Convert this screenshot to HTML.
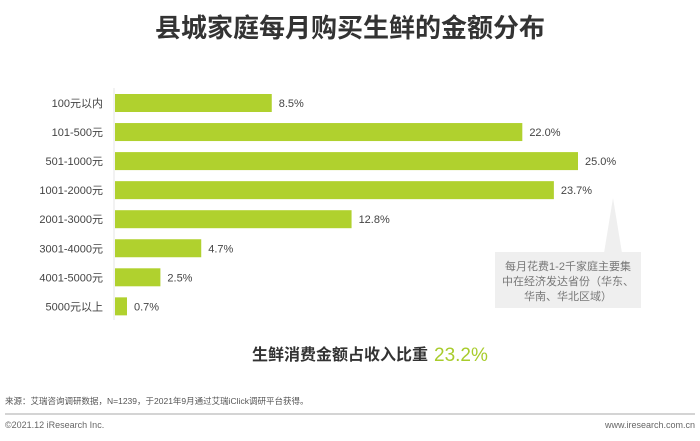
<!DOCTYPE html>
<html><head><meta charset="utf-8"><style>
body{margin:0;width:700px;height:436px;background:#fff;overflow:hidden;font-family:"Liberation Sans","Noto Sans CJK SC",sans-serif;}
</style></head><body>
<svg id="chart" width="700" height="436" xmlns="http://www.w3.org/2000/svg">
<text x="350" y="37" text-anchor="middle" font-size="26" font-weight="bold" fill="#333" font-family="'Liberation Sans','Noto Sans CJK SC',sans-serif">县城家庭每月购买生鲜的金额分布</text>
<line x1="114" y1="88" x2="114" y2="320" stroke="#e6e6e6" stroke-width="1"/>
<g id="bars"></g>
<g>
<polygon points="604,253 622,253 613,198" fill="#efefef"/>
<rect x="495" y="252" width="146" height="56" fill="#efefef"/>
<text x="568" y="270" text-anchor="middle" font-size="11" fill="#777" font-family="'Liberation Sans','Noto Sans CJK SC',sans-serif">每月花费1-2千家庭主要集</text>
<text x="568" y="285" text-anchor="middle" font-size="11" fill="#777" font-family="'Liberation Sans','Noto Sans CJK SC',sans-serif">中在经济发达省份（华东、</text>
<text x="568" y="300" text-anchor="middle" font-size="11" fill="#777" font-family="'Liberation Sans','Noto Sans CJK SC',sans-serif">华南、华北区域）</text>
</g>
<text x="252" y="360" font-size="16" font-weight="bold" fill="#333" font-family="'Liberation Sans','Noto Sans CJK SC',sans-serif">生鲜消费金额占收入比重</text>
<text x="434" y="361" font-size="19" fill="#a8cc2c" font-family="'Liberation Sans',sans-serif">23.2%</text>
<text x="5" y="404" font-size="8.5" fill="#555" font-family="'Liberation Sans','Noto Sans CJK SC',sans-serif">来源：艾瑞咨询调研数据，N=1239，于2021年9月通过艾瑞iClick调研平台获得。</text>
<line x1="5" y1="414" x2="695" y2="414" stroke="#aaa" stroke-width="1"/>
<text x="5" y="428" font-size="9" fill="#666">©2021.12 iResearch Inc.</text>
<text x="695" y="428" text-anchor="end" font-size="9" fill="#666">www.iresearch.com.cn</text>
</svg>
<script>
const categories=["100元以内","101-500元","501-1000元","1001-2000元","2001-3000元","3001-4000元","4001-5000元","5000元以上"];
const values=[8.5,22.0,25.0,23.7,12.8,4.7,2.5,0.7];
const valueLabels=["8.5%","22.0%","25.0%","23.7%","12.8%","4.7%","2.5%","0.7%"];
const NS="http://www.w3.org/2000/svg";
const x0=114, scale=(578-114)/25;
function xScale(v){return x0+v*scale;}
function yScale(i){return 103+i*29.05;}
const g=document.getElementById('bars');
categories.forEach((c,i)=>{
  const y=yScale(i);
  const r=document.createElementNS(NS,'rect');
  r.setAttribute('x',x0+1);r.setAttribute('y',y-9);
  r.setAttribute('width',xScale(values[i])-x0-1);r.setAttribute('height',18);
  r.setAttribute('fill','#b0d12e');
  
  
  g.appendChild(r);
  const t=document.createElementNS(NS,'text');
  t.setAttribute('x',103);t.setAttribute('y',y+4);t.setAttribute('text-anchor','end');
  t.setAttribute('font-size','11');t.setAttribute('fill','#444');
  t.setAttribute('font-family',"'Liberation Sans','Noto Sans CJK SC',sans-serif");
  t.textContent=c;
  
  
  g.appendChild(t);
  const v=document.createElementNS(NS,'text');
  v.setAttribute('x',xScale(values[i])+7);v.setAttribute('y',y+4);
  v.setAttribute('font-size','11');v.setAttribute('fill','#444');
  v.setAttribute('font-family',"'Liberation Sans',sans-serif");
  v.textContent=valueLabels[i];
  
  
  g.appendChild(v);
});
</script>
</body></html>
